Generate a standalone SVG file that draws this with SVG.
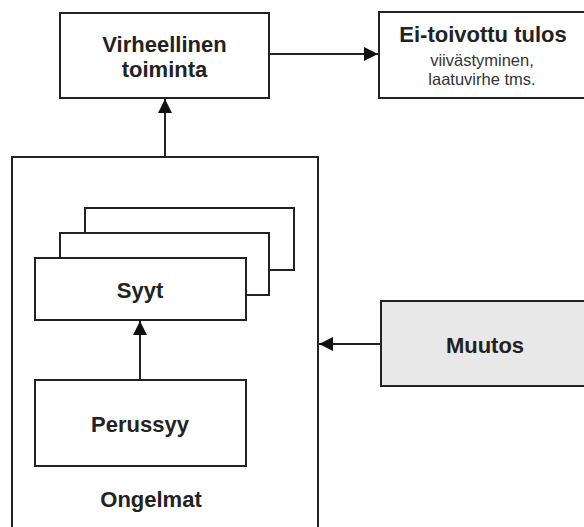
<svg xmlns="http://www.w3.org/2000/svg" width="584" height="527" viewBox="0 0 584 527">
<defs>
<style>
.box{fill:#fff;stroke:#222;stroke-width:2}
.grey{fill:#e8e8e8;stroke:#222;stroke-width:2}
.t{font-family:"Liberation Sans",Arial,sans-serif;font-weight:bold;font-size:22px;fill:#222;text-anchor:middle}
.s{font-family:"Liberation Sans",Arial,sans-serif;font-size:16.5px;fill:#333;text-anchor:middle}
.c{stroke:#222;stroke-width:2;fill:none}
</style>
<marker id="ah" viewBox="0 0 10 10" refX="10" refY="5" markerWidth="15" markerHeight="14" markerUnits="userSpaceOnUse" orient="auto">
<path d="M0,0 L10,5 L0,10 z" fill="#111"/>
</marker>
</defs>
<rect width="584" height="527" fill="#fff"/>
<g id="ongelmat">
<rect class="box" x="12" y="157" width="306" height="375"/>
<text class="t" x="151" y="507">Ongelmat</text>
</g>
<g id="syyt">
<rect class="box" x="85" y="208" width="209" height="62"/>
<rect class="box" x="60" y="233" width="209" height="62"/>
<rect class="box" x="35" y="258" width="211" height="62"/>
<text class="t" x="140" y="298">Syyt</text>
</g>
<g id="perussyy">
<rect class="box" x="35" y="380" width="211" height="86"/>
<text class="t" x="140" y="432">Perussyy</text>
</g>
<g id="virheellinen">
<rect class="box" x="60" y="13" width="209" height="85"/>
<text class="t" x="164.5" y="52">Virheellinen</text>
<text class="t" x="164.5" y="77">toiminta</text>
</g>
<g id="tulos">
<rect class="box" x="379" y="12" width="212" height="86"/>
<text class="t" x="483" y="42">Ei-toivottu tulos</text>
<text class="s" x="482" y="66">viivästyminen,</text>
<text class="s" x="482" y="85">laatuvirhe tms.</text>
</g>
<g id="muutos">
<rect class="grey" x="381" y="301" width="212" height="85"/>
<text class="t" x="485" y="353">Muutos</text>
</g>
<g id="connectors">
<line class="c" x1="165" y1="157" x2="165" y2="99" marker-end="url(#ah)"/>
<line class="c" x1="269" y1="54" x2="378" y2="54" marker-end="url(#ah)"/>
<line class="c" x1="140" y1="380" x2="140" y2="321" marker-end="url(#ah)"/>
<line class="c" x1="381" y1="344" x2="319" y2="344" marker-end="url(#ah)"/>
</g>
</svg>
